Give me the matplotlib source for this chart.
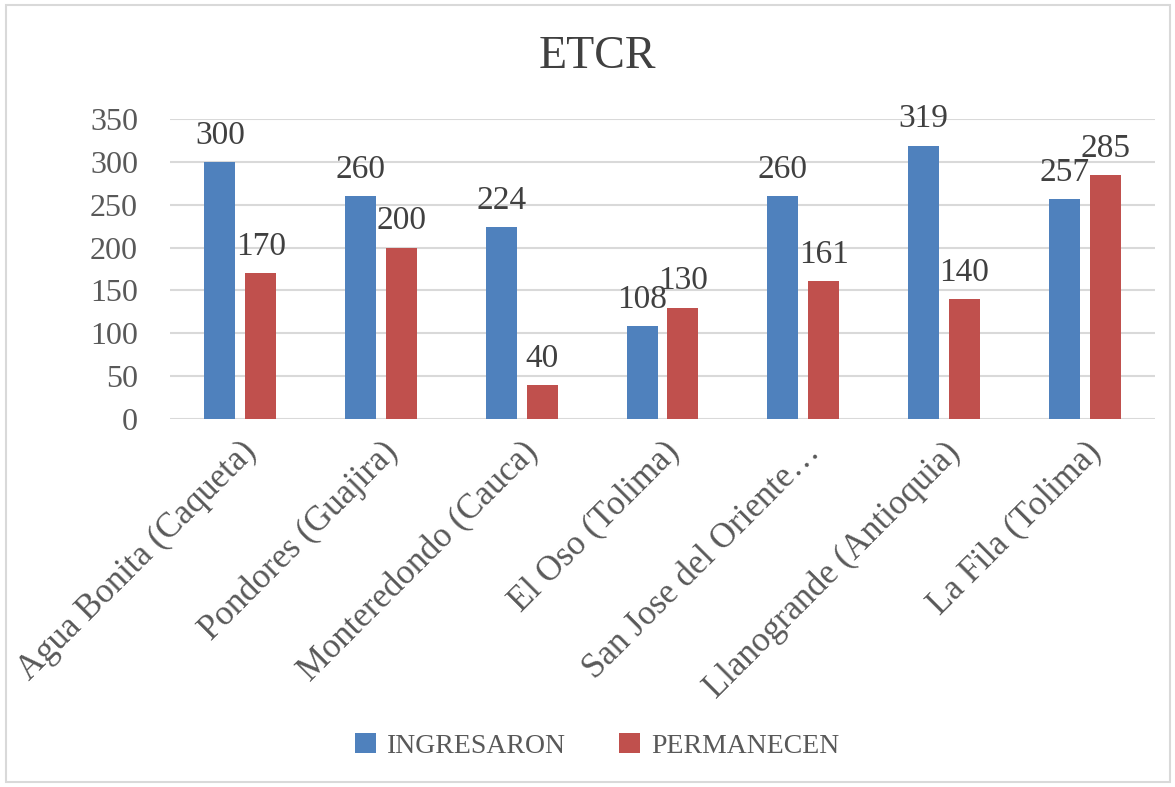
import matplotlib
matplotlib.use("Agg")
import matplotlib.pyplot as plt
import numpy as np
from matplotlib.patches import Rectangle

categories = ["Agua Bonita (Caqueta)", "Pondores (Guajira)", "Monteredondo (Cauca)",
              "El Oso (Tolima)", "San Jose del Oriente…", "Llanogrande (Antioquia)",
              "La Fila (Tolima)"]
ingresaron = [300, 260, 224, 108, 260, 319, 257]
permanecen = [170, 200, 40, 130, 161, 140, 285]
yticks = [0, 50, 100, 150, 200, 250, 300, 350]

plt.rcParams['font.family'] = ['Liberation Serif', 'DejaVu Serif']

fig = plt.figure(figsize=(11.75, 7.87), dpi=100)
ax = fig.add_axes([170/1175, 1-419/787, (1155-170)/1175, (419-119)/787])

x = np.arange(len(categories))
w = 0.22
off = 0.145
blue = '#4F81BD'
red = '#C0504D'
b1 = ax.bar(x - off, ingresaron, w, color=blue, label='INGRESARON', zorder=3)
b2 = ax.bar(x + off, permanecen, w, color=red, label='PERMANECEN', zorder=3)

for bars, vals in ((b1, ingresaron), (b2, permanecen)):
    for r, v in zip(bars, vals):
        ax.annotate(str(v), (r.get_x() + r.get_width()/2, v), xytext=(0, 8),
                    textcoords='offset points', ha='center', va='bottom',
                    fontsize=24, color='#404040')

ax.set_xlim(-0.5, len(categories) - 0.5)
ax.set_ylim(0, 350)
ax.set_yticks(yticks)
ax.set_yticklabels([str(t) for t in yticks], fontsize=23, color='#595959')
ax.set_xticks(x)
ax.set_xticklabels(categories, rotation=45, ha='right', rotation_mode='anchor',
                   fontsize=25, color='#595959')
ax.tick_params(axis='both', length=0)
ax.tick_params(axis='y', pad=23)
ax.tick_params(axis='x', pad=12)
ax.grid(axis='y', color='#D9D9D9', linewidth=1.5, zorder=0)
for s in ax.spines.values():
    s.set_visible(False)

fig.text(597/1175, 1-57/787, 'ETCR', ha='center', va='center', fontsize=33, color='#404040')

leg = fig.legend(handles=[b1, b2], loc='center', bbox_to_anchor=(597/1175, 1-746/787),
                 ncol=2, frameon=False, fontsize=20, handlelength=0.75, handleheight=0.75,
                 handletextpad=0.4, columnspacing=1.9)
for t in leg.get_texts():
    t.set_color('#595959')

fig.patches.append(Rectangle((6/1175, 1-782/787), (1170-6)/1175, (782-5)/787,
                             transform=fig.transFigure, fill=False,
                             edgecolor='#D9D9D9', linewidth=1.5))

fig.savefig('out.png', dpi=100, facecolor='white')
